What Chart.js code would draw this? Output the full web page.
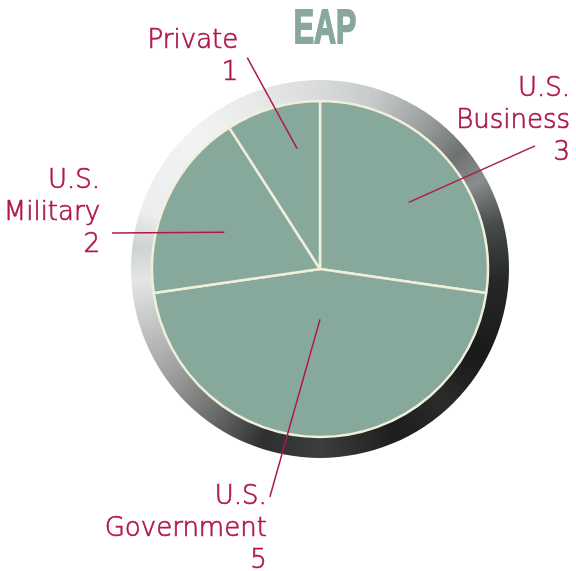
<!DOCTYPE html>
<html>
<head>
<meta charset="utf-8">
<script src="https://cdn.jsdelivr.net/npm/chart.js@4.4.0/dist/chart.umd.min.js"></script>
<style>
  body { margin: 0; background: #fff; }
  #wrap { width: 576px; height: 571px; }
</style>
</head>
<body>
<div id="wrap"><canvas id="eapChart" width="576" height="571"></canvas></div>
<script>
const chartTitle = 'EAP';
const categories = ['U.S. Business', 'U.S. Government', 'U.S. Military', 'Private'];
const labelLines = [['U.S.', 'Business'], ['U.S.', 'Government'], ['U.S.', 'Military'], ['Private']];
const counts = [3, 5, 2, 1];

const sliceColor = '#87a99b';
const textColor = '#b0184a';
const labelFont = '200 26px "DejaVu Sans"';

// callout layout: inner end along the slice, outer end around the pie (degrees from top), text offset from outer end
const callouts = [
  { inAngle: 4, inR: 0.66, outAngle: 60.2, outR: 1.475, dx: 35, dy: -50 },
  { inAngle: 0, inR: 0.30, outAngle: 192.4, outR: 1.39, dx: -3, dy: 7 },
  { inAngle: -3.5, inR: 0.61, outAngle: 279.8, outR: 1.256, dx: -12, dy: -45 },
  { inAngle: 5.6, inR: 0.73, outAngle: -19, outR: 1.33, dx: -9, dy: -10 }
];

// metal rim behind the pie
const ringPlugin = {
  id: 'ring',
  beforeDatasetsDraw(chart) {
    const arc = chart.getDatasetMeta(0).data[0];
    const ctx = chart.ctx;
    const outer = arc.outerRadius + 21;
    const g = ctx.createConicGradient(-Math.PI / 2, arc.x, arc.y);
    g.addColorStop(0.00, '#d9dbdb');
    g.addColorStop(0.05, '#c6c9c9');
    g.addColorStop(0.10, '#9a9d9d');
    g.addColorStop(0.14, '#6e7171');
    g.addColorStop(0.17, '#8a8d8d');
    g.addColorStop(0.21, '#474a4a');
    g.addColorStop(0.26, '#262828');
    g.addColorStop(0.33, '#181a1a');
    g.addColorStop(0.38, '#2a2c2c');
    g.addColorStop(0.43, '#1c1e1e');
    g.addColorStop(0.50, '#3c3e3e');
    g.addColorStop(0.55, '#2e3030');
    g.addColorStop(0.60, '#6a6c6c');
    g.addColorStop(0.65, '#9c9e9e');
    g.addColorStop(0.70, '#c4c6c6');
    g.addColorStop(0.74, '#e4e6e6');
    g.addColorStop(0.77, '#cfd2d2');
    g.addColorStop(0.80, '#eceeee');
    g.addColorStop(0.88, '#f2f3f3');
    g.addColorStop(0.94, '#e8eaea');
    g.addColorStop(1.00, '#d9dbdb');
    ctx.save();
    ctx.beginPath();
    ctx.arc(arc.x, arc.y, outer, 0, Math.PI * 2);
    ctx.fillStyle = g;
    ctx.fill();
    ctx.restore();
  }
};

const calloutPlugin = {
  id: 'callouts',
  afterDatasetsDraw(chart) {
    const ctx = chart.ctx;
    const meta = chart.getDatasetMeta(0);
    ctx.save();
    ctx.strokeStyle = textColor;
    ctx.fillStyle = textColor;
    ctx.font = labelFont;
    ctx.textAlign = 'right';
    ctx.textBaseline = 'alphabetic';
    meta.data.forEach((arc, i) => {
      const c = callouts[i];
      const mid = (arc.startAngle + arc.endAngle) / 2 + c.inAngle * Math.PI / 180;
      const x1 = arc.x + Math.cos(mid) * arc.outerRadius * c.inR;
      const y1 = arc.y + Math.sin(mid) * arc.outerRadius * c.inR;
      const oa = (c.outAngle - 90) * Math.PI / 180;
      const x2 = arc.x + Math.cos(oa) * arc.outerRadius * c.outR;
      const y2 = arc.y + Math.sin(oa) * arc.outerRadius * c.outR;
      ctx.lineWidth = 1.5;
      ctx.beginPath();
      ctx.moveTo(x1, y1);
      ctx.lineTo(x2, y2);
      ctx.stroke();
      ctx.lineWidth = 0.7;
      const lines = labelLines[i].concat(String(counts[i]));
      lines.forEach((t, k) => {
        const ty = y2 + c.dy + k * 32;
        ctx.fillText(t, x2 + c.dx, ty);
        ctx.strokeText(t, x2 + c.dx, ty);
      });
    });
    ctx.restore();
  }
};

const titlePlugin = {
  id: 'condensedTitle',
  afterDraw(chart) {
    const arc = chart.getDatasetMeta(0).data[0];
    const ctx = chart.ctx;
    ctx.save();
    ctx.translate(arc.x + 5, 43);
    ctx.scale(0.62, 1);
    ctx.font = 'bold 49px "Liberation Sans Narrow", "Liberation Sans"';
    ctx.fillStyle = '#88a89b';
    ctx.strokeStyle = '#88a89b';
    ctx.lineWidth = 2;
    ctx.textAlign = 'center';
    ctx.fillText(chartTitle, 0, 0);
    ctx.strokeText(chartTitle, 0, 0);
    ctx.restore();
  }
};

new Chart(document.getElementById('eapChart'), {
  type: 'pie',
  data: {
    labels: categories,
    datasets: [{
      data: counts,
      backgroundColor: sliceColor,
      borderColor: '#f1efdc',
      borderWidth: 2.5,
      radius: 168
    }]
  },
  options: {
    responsive: false,
    animation: false,
    events: [],
    layout: { padding: { left: 130, right: 66, top: 79, bottom: 112 } },
    plugins: {
      legend: { display: false },
      title: { display: false },
      tooltip: { enabled: false }
    }
  },
  plugins: [ringPlugin, calloutPlugin, titlePlugin]
});
</script>
</body>
</html>
